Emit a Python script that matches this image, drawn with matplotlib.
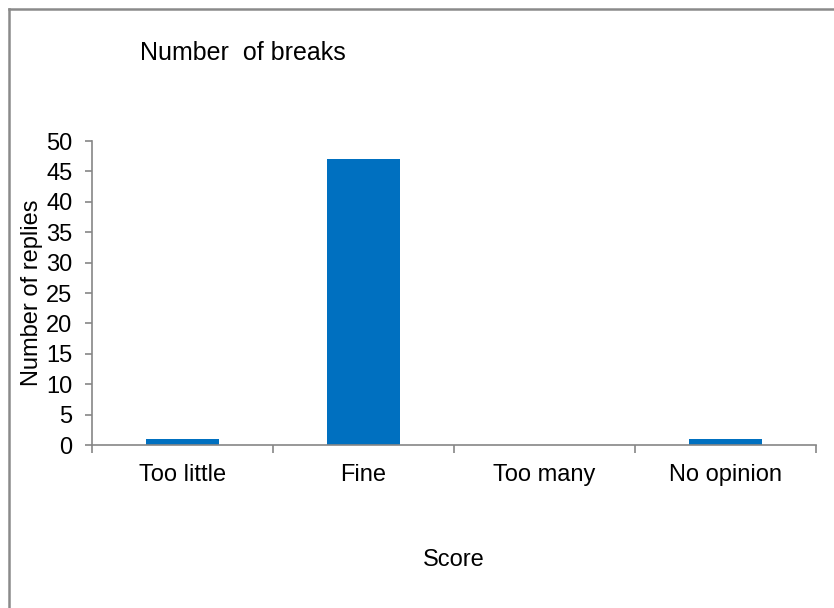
import matplotlib
matplotlib.use('Agg')
import matplotlib.pyplot as plt
from matplotlib.lines import Line2D

# --- Data ---
categories = ['Too little', 'Fine', 'Too many', 'No opinion']
replies = [1, 47, 0, 1]
y_ticks = list(range(0, 55, 5))

BAR_COLOR = '#0070c0'
AXIS_COLOR = '#868686'
FRAME_COLOR = '#8a8a8a'

plt.rcParams['font.family'] = ['Liberation Sans', 'DejaVu Sans']

W, H = 834, 608
fig = plt.figure(figsize=(W / 100, H / 100), dpi=100)

# outer chart frame (only left and top edges visible)
fig.add_artist(Line2D([9 / W, 9 / W], [0, 1 - 9 / H], transform=fig.transFigure,
                      color=FRAME_COLOR, linewidth=1.8))
fig.add_artist(Line2D([9 / W, 1], [1 - 9 / H, 1 - 9 / H], transform=fig.transFigure,
                      color=FRAME_COLOR, linewidth=1.8))

ax = fig.add_axes([92 / W, 1 - 445 / H, (816 - 92) / W, (445 - 141) / H])

x = list(range(len(categories)))
ax.bar(x, replies, width=0.4, color=BAR_COLOR, zorder=2)

ax.set_xlim(-0.5, len(categories) - 0.5)
ax.set_ylim(0, 50)
ax.set_yticks(y_ticks)
ax.tick_params(axis='y', labelsize=17, length=5, width=1.2, color=AXIS_COLOR, pad=9)

# category labels centred, tick marks on the boundaries
ax.set_xticks(x)
ax.set_xticklabels(categories, fontsize=17)
ax.tick_params(axis='x', which='major', length=0, pad=14)
ax.set_xticks([i - 0.5 for i in range(len(categories) + 1)], minor=True)
ax.tick_params(axis='x', which='minor', length=6, width=1.2, color=AXIS_COLOR)

for side in ['top', 'right']:
    ax.spines[side].set_visible(False)
for side in ['left', 'bottom']:
    ax.spines[side].set_color(AXIS_COLOR)
    ax.spines[side].set_linewidth(1.2)

ax.set_xlabel('Score', fontsize=17, labelpad=0)
ax.xaxis.set_label_coords(0.5, -0.343)
ax.set_ylabel('Number of replies', fontsize=17)
ax.yaxis.set_label_coords(-0.067, 0.5)

fig.text(140 / W, 1 - 53 / H, 'Number  of breaks', fontsize=18, ha='left', va='center')

plt.savefig('out.png', dpi=100)
plt.close()
